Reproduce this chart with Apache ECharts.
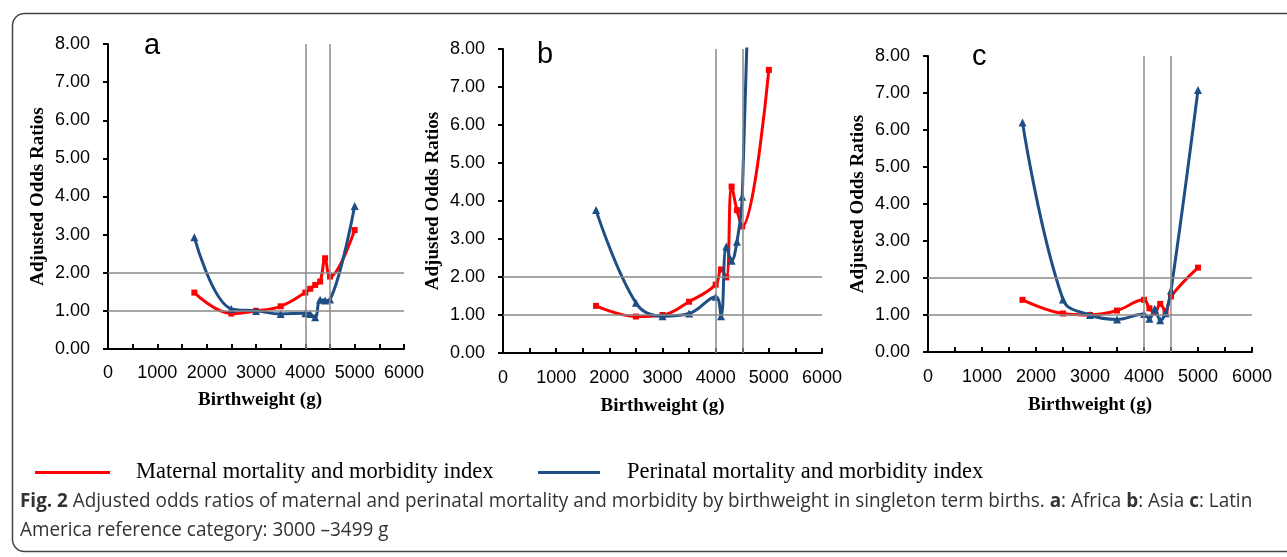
<!DOCTYPE html>
<html><head><meta charset="utf-8">
<script src="https://cdn.jsdelivr.net/npm/echarts@6/dist/echarts.min.js"></script>
<style>html,body{margin:0;padding:0;background:#fff}#c{width:1287px;height:557px}</style>
</head><body><div id="c"></div>
<script>
// Birthweight categories (g)
const weights = [1750, 2500, 3000, 3500, 4000, 4100, 4200, 4300, 4400, 4500, 5000];
// a: Africa
const africaMaternal = [1.48, 0.93, 1.00, 1.12, 1.48, 1.58, 1.68, 1.77, 2.38, 1.90, 3.12];
const africaPerinatal = [2.93, 1.05, 1.00, 0.92, 0.94, 0.92, 0.83, 1.29, 1.27, 1.30, 3.75];
// b: Asia
const asiaMaternal = [1.24, 0.96, 1.00, 1.35, 1.80, 2.20, 1.99, 4.38, 3.76, 3.33, 7.45];
const asiaPerinatal = [3.76, 1.32, 0.97, 1.04, 1.48, 0.97, 2.80, 2.43, 2.93, 4.11, 29.0];
// c: Latin America
const latinMaternal = [1.41, 1.04, 1.00, 1.12, 1.41, 1.18, 1.06, 1.30, 1.10, 1.50, 2.28];
const latinPerinatal = [6.20, 1.42, 1.00, 0.88, 1.03, 0.90, 1.17, 0.86, 1.05, 1.66, 7.08];

const panelLetters = ['a', 'b', 'c'];
const seriesNames = ['Maternal mortality and morbidity index', 'Perinatal mortality and morbidity index'];
const refX = [4000, 4500];
const refY = [1, 2];
const xMin = 0, xMax = 6000, xTickStep = 500, xLabelStep = 1000;
const yMin = 0, yMax = 8, yTickStep = 1;
const xTitle = 'Birthweight (g)';
const yTitle = 'Adjusted Odds Ratios';

const panels = [
  {m: africaMaternal, p: africaPerinatal, grid: {left: 108, top: 44, width: 296, height: 305}, letter: [144, 31], xGap: 42, lblM: 15, xPad: [0, 0, 0, 8]},
  {m: asiaMaternal, p: asiaPerinatal, grid: {left: 503, top: 49, width: 319, height: 304}, letter: [537, 40], xGap: 44, lblM: 16, xPad: [0, 0, 0, 0]},
  {m: latinMaternal, p: latinPerinatal, grid: {left: 928, top: 56, width: 324, height: 296}, letter: [972, 42], xGap: 44, lblM: 16, xPad: [0, 0, 0, 0]}
];

const RED = '#FF0000', BLUE = '#1F4E85', REFC = '#8a8a8a';
const serif = '"Liberation Serif", "Times New Roman", serif';
const sans = '"Liberation Sans", Arial, sans-serif';

const pairs = arr => weights.map((w, i) => [w, arr[i]]);

const option = {
  animation: false,
  grid: panels.map(p => p.grid),
  xAxis: panels.map((p, i) => ({
    type: 'value', gridIndex: i, min: xMin, max: xMax, interval: xTickStep,
    name: xTitle, nameLocation: 'middle', nameGap: p.xGap,
    nameTextStyle: {fontFamily: serif, fontWeight: 'bold', fontSize: 19, color: '#000', padding: p.xPad},
    axisLine: {onZero: false, lineStyle: {color: '#000', width: 2}},
    axisTick: {inside: true, length: 5, lineStyle: {color: '#000', width: 2}},
    axisLabel: {margin: p.lblM, fontFamily: sans, fontSize: 18, color: '#000',
      formatter: v => (v % xLabelStep === 0 ? String(v) : '')},
    splitLine: {show: false}
  })),
  yAxis: panels.map((p, i) => ({
    type: 'value', gridIndex: i, min: yMin, max: yMax, interval: yTickStep,
    name: yTitle, nameLocation: 'middle', nameGap: 60, nameRotate: 90,
    nameTextStyle: {fontFamily: serif, fontWeight: 'bold', fontSize: 19, color: '#000'},
    axisLine: {show: true, lineStyle: {color: '#000', width: 2}},
    axisTick: {show: true, inside: false, length: 5, lineStyle: {color: '#000', width: 2}},
    axisLabel: {margin: 18, fontFamily: sans, fontSize: 18, color: '#000',
      formatter: v => v.toFixed(2)},
    splitLine: {show: false}
  })),
  legend: [
    {data: [seriesNames[0]], left: 35, top: 461, padding: 0, icon: 'rect', itemWidth: 75, itemHeight: 3,
     textStyle: {fontFamily: serif, fontSize: 22.5, color: '#000', padding: [0, 0, 0, 21]}, selectedMode: false},
    {data: [seriesNames[1]], left: 538, top: 461, padding: 0, icon: 'rect', itemWidth: 62, itemHeight: 3,
     textStyle: {fontFamily: serif, fontSize: 22.5, color: '#000', padding: [0, 0, 0, 22]}, selectedMode: false}
  ],
  title: panels.map((p, i) => ({
    text: panelLetters[i], left: p.letter[0], top: p.letter[1], padding: 0,
    textStyle: {fontFamily: sans, fontWeight: 'normal', fontSize: 29, color: '#000'}
  })),
  series: []
};

panels.forEach((p, i) => {
  option.series.push({
    type: 'line', name: '__ref' + i, xAxisIndex: i, yAxisIndex: i, data: [], silent: true,
    z: 1,
    markLine: {silent: true, symbol: 'none', label: {show: false},
      lineStyle: {color: REFC, width: 1.5, type: 'solid'},
      data: refX.map(x => ({xAxis: x})).concat(refY.map(y => ({yAxis: y})))}
  });
  option.series.push({
    type: 'line', name: seriesNames[0], xAxisIndex: i, yAxisIndex: i, data: pairs(p.m),
    smooth: 0.4, symbol: 'rect', symbolSize: 6, z: 3,
    lineStyle: {color: RED, width: 3}, itemStyle: {color: RED}
  });
  option.series.push({
    type: 'line', name: seriesNames[1], xAxisIndex: i, yAxisIndex: i, data: pairs(p.p),
    smooth: 0.4, symbol: 'triangle', symbolSize: 8, z: 4,
    lineStyle: {color: BLUE, width: 3}, itemStyle: {color: BLUE}
  });
});

option.graphic = [
  {type: 'rect', left: 10, top: 11, shape: {x: 0, y: 0, width: 1300, height: 538, r: 12},
   style: {fill: 'none', stroke: '#444', lineWidth: 1.5}, silent: true, z: -1},
  {type: 'text', x: 20, y: 491, scaleX: 0.945, silent: true,
   style: {
     text: '{b|Fig. 2} Adjusted odds ratios of maternal and perinatal mortality and morbidity by birthweight in singleton term births. {b|a}: Africa {b|b}: Asia {b|c}: Latin',
     font: '20px "Open Sans", sans-serif', fill: '#333',
     rich: {b: {fontWeight: 'bold', fontFamily: '"Open Sans", sans-serif', fontSize: 20, fill: '#333'}}
   }},
  {type: 'text', x: 20, y: 520, scaleX: 0.945, silent: true,
   style: {text: 'America reference category: 3000 \u20133499 g', font: '20px "Open Sans", sans-serif', fill: '#333'}}
];

const chart = echarts.init(document.getElementById('c'), null, {renderer: 'canvas'});
chart.setOption(option);
</script></body></html>
